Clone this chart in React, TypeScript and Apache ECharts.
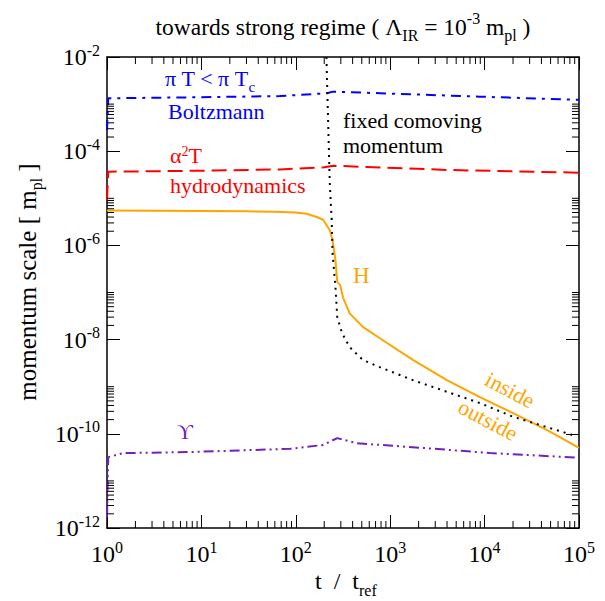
import React, { useEffect, useRef } from "react";
import * as echarts from "echarts";

const FONT = "Liberation Serif";

// axis ranges
const X_MIN = 1;
const X_MAX = 1e5;
const Y_MIN = 1e-12;
const Y_MAX = 1e-2;

// series: [t / t_ref, momentum scale in m_pl]
const boltzmann: number[][] = [
  [1, 2.8e-4], [1.03, 1.33e-3], [10, 1.4e-3], [68, 1.48e-3], [214, 1.7e-3],
  [247, 1.84e-3], [780, 1.7e-3], [8900, 1.44e-3], [1e5, 1.23e-3],
];
const hydro: number[][] = [
  [1, 9.1e-6], [1.03, 3.67e-5], [10, 3.85e-5], [68, 4.1e-5], [200, 4.55e-5],
  [250, 4.9e-5], [300, 4.85e-5], [4000, 4.0e-5], [1e5, 3.5e-5],
];
const hubble: number[][] = [
  [1, 5.5e-6], [10, 5.4e-6], [30, 5.3e-6], [60, 5.2e-6], [100, 5.0e-6],
  [130, 4.7e-6], [167, 4.0e-6], [195, 3.5e-6], [229, 2.1e-6], [245, 1.3e-6],
  [263, 4.9e-7], [275, 1.66e-7], [295, 1.45e-7], [316, 7.9e-8], [372, 3.6e-8],
  [513, 1.86e-8], [776, 1.07e-8], [1738, 3.7e-9], [3981, 1.38e-9],
  [8913, 6.0e-10], [2e4, 2.75e-10], [4.6e4, 1.2e-10], [1e5, 5.0e-11],
];
const comoving: number[][] = [
  [211, 1e-2], [229, 2.1e-5], [240, 3.5e-6], [245, 6.9e-7], [263, 1.3e-7],
  [275, 3.0e-8], [309, 1.38e-8], [372, 6.9e-9], [513, 3.7e-9], [776, 2.6e-9],
  [1738, 1.38e-9], [3981, 7.8e-10], [8913, 4.5e-10], [2e4, 2.3e-10],
  [4.6e4, 1.38e-10], [8.7e4, 9.3e-11],
];
const upsilon: number[][] = [
  [1, 1.7e-12], [1.03, 3.2e-11], [1.5, 3.9e-11], [7.6, 4.1e-11], [87, 4.8e-11],
  [195, 5.8e-11], [275, 8.1e-11], [447, 6.3e-11], [2240, 5.0e-11],
  [11500, 3.9e-11], [1e5, 3.1e-11],
];

// minor tick positions
const minorMultipliers = [2, 3, 4, 5, 6, 7, 8, 9];
const yMinorMultipliers = [2, 3, 4, 5, 6, 7, 8, 9, 10];
const xDecadeStarts = [1, 10, 100, 1000, 10000];
const yMinorDecadeStarts = [1e-12, 1e-10, 1e-8, 1e-6, 1e-4];

const tickLabel = (v: number) => `{b|10}{e|${Math.round(Math.log10(v))}}`;
const tickRich = {
  b: { fontFamily: FONT, fontSize: 24, lineHeight: 30, color: "#000" },
  e: { fontFamily: FONT, fontSize: 16, lineHeight: 16, verticalAlign: "top", color: "#000" },
};

const axisLineStyle = { color: "#000", width: 1.5 };

export default function App() {
  const ref = useRef<HTMLDivElement>(null);
  useEffect(() => {
    if (!ref.current) return;
    const chart = echarts.init(ref.current, null, { renderer: "svg" });

    const tickData: number[][] = [
      ...xDecadeStarts.flatMap((d) => minorMultipliers.map((m) => [m * d, Y_MIN, 0])),
      ...yMinorDecadeStarts.flatMap((d) => yMinorMultipliers.map((m) => [X_MIN, m * d, 1])),
    ];

    const baseX = {
      type: "log",
      logBase: 10,
      min: X_MIN,
      max: X_MAX,
      axisLine: { show: true, onZero: false, lineStyle: axisLineStyle },
      axisTick: { show: true, inside: true, length: 13, interval: 0, lineStyle: { color: "#000", width: 1 } },
      splitLine: { show: false },
      minorTick: { show: false },
    };
    const baseY = {
      type: "log",
      logBase: 100,
      min: Y_MIN,
      max: Y_MAX,
      axisLine: { show: true, onZero: false, lineStyle: axisLineStyle },
      axisTick: { show: true, inside: true, length: 13, interval: 0, lineStyle: { color: "#000", width: 1 } },
      splitLine: { show: false },
      minorTick: { show: false },
    };

    const lineSeries = (data: number[][], color: string, type: any) => ({
      type: "line",
      data,
      xAxisIndex: 0,
      yAxisIndex: 0,
      showSymbol: false,
      symbol: "none",
      lineStyle: { color, width: 2, type, cap: "butt" },
      z: 3,
    });

    const txt = (
      x: number,
      y: number,
      text: string,
      color: string,
      opts: any = {}
    ) => ({
      type: "text",
      x,
      y,
      rotation: opts.rotation || 0,
      z: 10,
      style: {
        text,
        fill: color,
        fontFamily: FONT,
        fontSize: opts.fontSize || 22,
        align: opts.align || "left",
        verticalAlign: "middle",
        rich: opts.rich,
      },
    });

    const subRich = (color: string, main: number, sub: number, lh: number) => ({
      a: { fontFamily: FONT, fontSize: main, lineHeight: lh, fill: color },
      s: { fontFamily: FONT, fontSize: sub, lineHeight: sub, verticalAlign: "bottom", fill: color },
      p: { fontFamily: FONT, fontSize: sub, lineHeight: sub, verticalAlign: "top", fill: color },
    });

    const option: any = {
      animation: false,
      textStyle: { fontFamily: FONT },
      grid: { left: 107, right: 26, top: 57, bottom: 73, containLabel: false },
      xAxis: [
        {
          ...baseX,
          position: "bottom",
          axisLabel: { interval: 0, margin: 11, fontFamily: FONT, formatter: tickLabel, rich: tickRich },
        },
        { ...baseX, position: "top", axisLabel: { show: false, interval: 0 } },
      ],
      yAxis: [
        {
          ...baseY,
          position: "left",
          axisLabel: { interval: 0, margin: 7, fontFamily: FONT, formatter: tickLabel, rich: tickRich },
        },
        { ...baseY, position: "right", axisLabel: { show: false, interval: 0 } },
      ],
      series: [
        lineSeries(boltzmann, "#0000ff", [10, 6, 3, 6]),
        lineSeries(hydro, "#ff0000", [15, 7]),
        lineSeries(hubble, "#ffa500", "solid"),
        lineSeries(comoving, "#000000", [2, 5]),
        lineSeries(upsilon, "#7221bc", [10, 4, 2, 4, 2, 4]),
        {
          type: "custom",
          coordinateSystem: "cartesian2d",
          xAxisIndex: 0,
          yAxisIndex: 0,
          clip: false,
          silent: true,
          z: 4,
          data: tickData,
          renderItem: (params: any, api: any) => {
            const kind = api.value(2);
            const style = { stroke: "#000", lineWidth: 1 };
            if (kind === 0) {
              const v = api.value(0);
              const pb = api.coord([v, Y_MIN]);
              const pt = api.coord([v, Y_MAX]);
              return {
                type: "group",
                children: [
                  { type: "line", shape: { x1: pb[0], y1: pb[1], x2: pb[0], y2: pb[1] - 7 }, style },
                  { type: "line", shape: { x1: pt[0], y1: pt[1], x2: pt[0], y2: pt[1] + 7 }, style },
                ],
              };
            }
            const v = api.value(1);
            const pl = api.coord([X_MIN, v]);
            const pr = api.coord([X_MAX, v]);
            return {
              type: "group",
              children: [
                { type: "line", shape: { x1: pl[0], y1: pl[1], x2: pl[0] + 7, y2: pl[1] }, style },
                { type: "line", shape: { x1: pr[0], y1: pr[1], x2: pr[0] - 7, y2: pr[1] }, style },
              ],
            };
          },
        },
      ],
      graphic: [
        txt(343, 27, "{a|towards strong regime ( Λ}{s|IR}{a| = 10}{p|-3}{a| m}{s|pl}{a| )}", "#000", {
          align: "center",
          rich: subRich("#000", 23.5, 16, 33),
        }),
        txt(27, 282, "{a|momentum scale [ m}{s|pl}{a| ]}", "#000", {
          align: "center",
          rotation: Math.PI / 2,
          rich: subRich("#000", 25, 16, 35),
        }),
        txt(315, 581, "{a|t\u00a0\u00a0/\u00a0\u00a0t}{s|ref}", "#000", {
          rich: subRich("#000", 24, 16, 34),
        }),
        txt(165, 78, "{a|π T < π T}{s|c}", "#0000ff", { rich: subRich("#0000ff", 22, 15, 32) }),
        txt(168, 111, "Boltzmann", "#0000ff"),
        txt(343, 120, "fixed comoving", "#000"),
        txt(343, 145, "momentum", "#000"),
        txt(170, 155, "{a|α}{p|2}{a|T}", "#ff0000", { rich: subRich("#ff0000", 22, 14, 22) }),
        txt(170, 185, "hydrodynamics", "#ff0000"),
        txt(353, 275, "H", "#ffa500", { fontSize: 23 }),
        txt(510, 390, "inside", "#ffa500", { align: "center", rotation: (-28 * Math.PI) / 180 }),
        txt(488, 420, "outside", "#ffa500", { align: "center", rotation: (-28 * Math.PI) / 180 }),
        txt(185, 431, "ϒ", "#7221bc", { align: "center" }),
      ],
    };

    chart.setOption(option);
    return () => chart.dispose();
  }, []);

  return (
    <div
      ref={ref}
      style={{ position: "fixed", left: 0, top: 0, width: 605, height: 601, background: "#fff" }}
    />
  );
}
